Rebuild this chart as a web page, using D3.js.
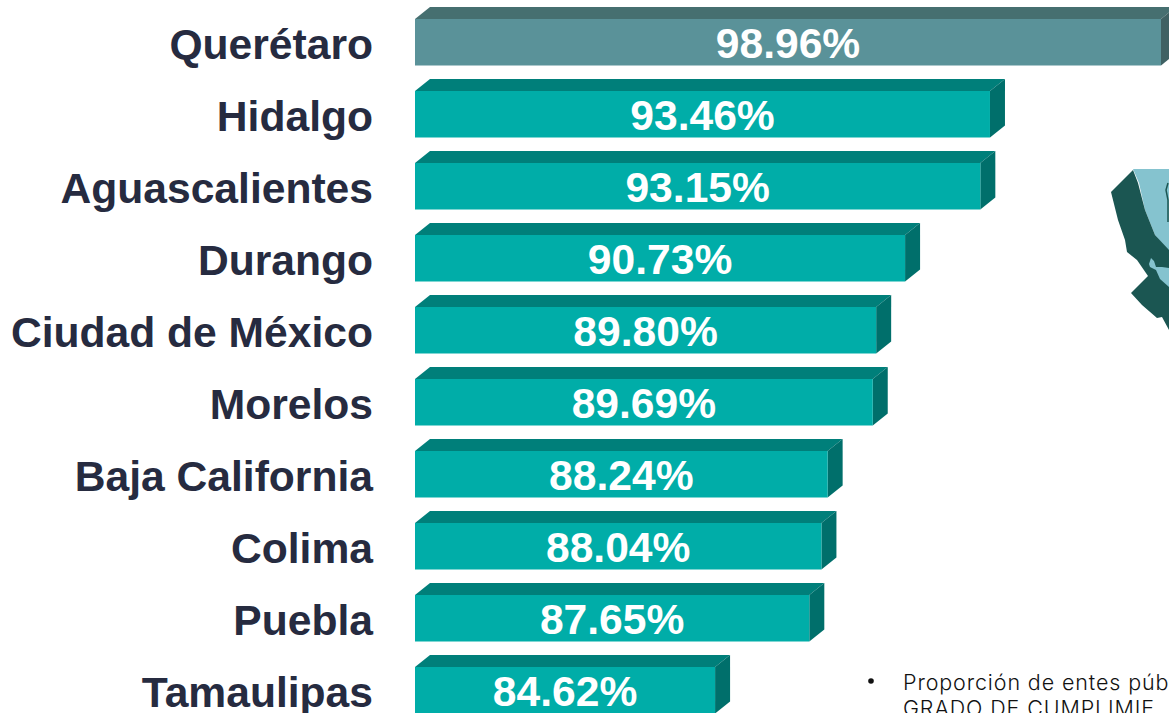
<!DOCTYPE html>
<html><head><meta charset="utf-8">
<script src="https://cdn.jsdelivr.net/npm/d3@7"></script>
<style>html,body{margin:0;padding:0;background:#fff;overflow:hidden}svg{display:block}</style>
</head><body><svg id="c" width="1169" height="713"></svg>
<script>
const estados = ["Querétaro","Hidalgo","Aguascalientes","Durango","Ciudad de México","Morelos","Baja California","Colima","Puebla","Tamaulipas"];
const valores = [98.96,93.46,93.15,90.73,89.80,89.69,88.24,88.04,87.65,84.62];
const notas = ["Proporción de entes púb","GRADO DE CUMPLIMIE"];
// decorative map fragment
const mapaOscuro = [[1133,170],[1111,192],[1114,204],[1118,220],[1125,240],[1127,252],[1137,260],[1148,276],[1131,293],[1142,305],[1157,318],[1162,317],[1169,330],[1169,250],[1155,235],[1145,210],[1138,183]];
const mapaClaro = [[1133,169],[1169,169],[1169,252],[1155,235],[1145,210],[1139,183]];
const mapaGolfo = [[1149,264],[1151,258],[1154,261],[1156,267],[1162,267],[1169,268],[1169,287],[1160,279],[1156,270],[1150,267]];
const mapaLinea = [[1168,183],[1166,190],[1168,200],[1168,222]];

const svg = d3.select("#c");
const x = d3.scaleLinear().domain([74.97,98.96]).range([415,1161]);
const y = d3.scaleBand().domain(estados).range([19,713.5]).paddingInner(25.5/72).paddingOuter(0);
const x0 = x(x.domain()[0]);
const dx = 15, dy = 12;
const line = d3.line();
const gris = "Querétaro";

const rows = svg.selectAll("g.row").data(estados.map((e,i)=>({e,v:valores[i]}))).join("g").attr("class","row");
rows.append("path").attr("d",d=>{const r=x(d.v),t=y(d.e);return line([[x0,t],[x0+dx,t-dy],[r+dx,t-dy],[r,t]])+"Z";})
  .attr("fill",d=>d.e===gris?"#466f70":"#007f7a");
rows.append("path").attr("d",d=>{const r=x(d.v),t=y(d.e),b=t+y.bandwidth();return line([[r,t],[r+dx,t-dy],[r+dx,b-dy],[r,b]])+"Z";})
  .attr("fill",d=>d.e===gris?"#3f6163":"#006f6b");
rows.append("rect").attr("x",x0).attr("y",d=>y(d.e)).attr("width",d=>x(d.v)-x0).attr("height",y.bandwidth())
  .attr("fill",d=>d.e===gris?"#5a9299":"#00ada8");
rows.append("text").attr("x",373).attr("y",d=>y(d.e)+y.bandwidth()/2+17).attr("text-anchor","end")
  .attr("font-family","'Liberation Sans',Arial,sans-serif").attr("font-weight",700).attr("font-size",42.6).attr("fill","#262b40").text(d=>d.e);
rows.append("text").attr("x",d=>(x0+x(d.v))/2).attr("y",d=>y(d.e)+y.bandwidth()/2+16).attr("text-anchor","middle")
  .attr("font-family","'Liberation Sans',Arial,sans-serif").attr("font-weight",700).attr("font-size",42.6).attr("fill","#fff").text(d=>d3.format(".2f")(d.v)+"%");

const mapa = svg.append("g");
mapa.append("path").attr("d",line(mapaClaro)+"Z").attr("fill","#85c3cf");
mapa.append("path").attr("d",line(mapaOscuro)+"Z").attr("fill","#1b5652");
mapa.append("path").attr("d",line(mapaGolfo)+"Z").attr("fill","#85c3cf");
mapa.append("path").attr("d",line(mapaLinea)).attr("fill","none").attr("stroke","#1b5652").attr("stroke-width",1.5);

svg.append("circle").attr("cx",871).attr("cy",681).attr("r",2.8).attr("fill","#111");
svg.selectAll("text.nota").data(notas).join("text").attr("class","nota").attr("x",903).attr("y",(d,i)=>690+i*26)
  .attr("font-family","Inter,sans-serif").attr("font-weight",300).attr("font-size",21.5).attr("letter-spacing",0.88).attr("fill","#111").text(d=>d);
</script></body></html>
